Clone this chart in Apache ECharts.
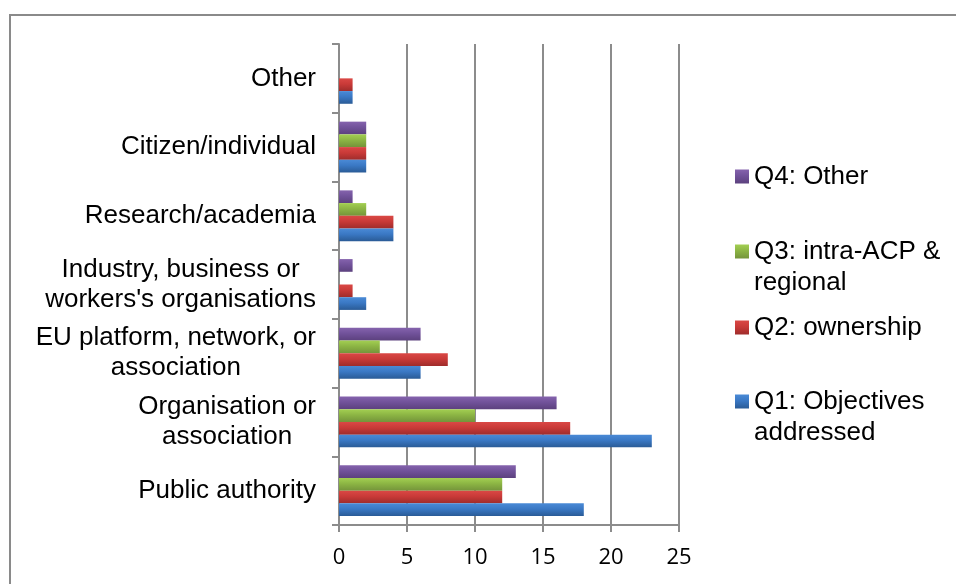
<!DOCTYPE html>
<html>
<head>
<meta charset="utf-8">
<script src="https://cdn.jsdelivr.net/npm/echarts@6/dist/echarts.min.js"></script>
<style>
html,body{margin:0;padding:0;background:#fff;}
#main{width:956px;height:584px;}
</style>
</head>
<body>
<div id="main"></div>
<script>
// Categories listed bottom to top (ECharts category y axis starts at the bottom)
var categories = [
  'Public authority',
  'Organisation or\nassociation',
  'EU platform, network, or\nassociation',
  'Industry, business or\nworkers\'s organisations',
  'Research/academia',
  'Citizen/individual',
  'Other'
];
var seriesNames = ['Q1: Objectives addressed', 'Q2: ownership', 'Q3: intra-ACP & regional', 'Q4: Other'];
var legendLabels = ['Q1: Objectives\naddressed', 'Q2: ownership', 'Q3: intra-ACP &\nregional', 'Q4: Other'];
var q1 = [18, 23, 6, 2, 4, 2, 1];
var q2 = [12, 17, 8, 1, 4, 2, 1];
var q3 = [12, 10, 3, 0, 2, 2, 0];
var q4 = [13, 16, 6, 1, 1, 2, 0];
var xTicks = [0, 5, 10, 15, 20, 25];

var seriesData = [q1, q2, q3, q4];
var gradStops = [
  ['#4a8ad6', '#3a78c4', '#2a5b96'],
  ['#da4845', '#c93a38', '#9f2c2b'],
  ['#a3cf52', '#8cb544', '#74943a'],
  ['#8563ad', '#71529a', '#5c417e']
];
function grad(c) {
  return new echarts.graphic.LinearGradient(0, 0, 0, 1, [
    {offset: 0, color: c[0]}, {offset: 0.45, color: c[1]}, {offset: 1, color: c[2]}
  ]);
}

var FONT = '"Liberation Sans", Arial, sans-serif';
var FS = 26;
// ECharts stacks bar series top-down inside a band, so add Q4 first to keep Q1 at the bottom
var order = [3, 2, 1, 0];
var series = order.map(function (i) {
  return {
    name: seriesNames[i],
    type: 'bar',
    data: seriesData[i],
    barGap: '0%',
    barCategoryGap: '26%',
    itemStyle: {color: grad(gradStops[i])},
    emphasis: {disabled: true}
  };
});

var legendTops = [355, 312, 205, 161]; // Q1, Q2, Q3, Q4
var legends = seriesNames.map(function (n, i) {
  var twoLine = legendLabels[i].indexOf('\n') >= 0;
  return {
    data: [n],
    orient: 'vertical',
    left: 735,
    top: legendTops[i],
    padding: 0,
    itemWidth: 14,
    itemHeight: 14,
    icon: 'rect',
    selectedMode: false,
    formatter: function () { return (twoLine ? '\n' : '') + legendLabels[i]; },
    textStyle: {fontFamily: FONT, fontSize: FS, color: '#000', lineHeight: 31}
  };
});

var option = {
  animation: false,
  backgroundColor: '#fff',
  grid: {left: 339, top: 44, width: 340, height: 481, containLabel: false},
  legend: legends,
  xAxis: {
    type: 'value',
    min: 0, max: 25, interval: 5,
    axisLine: {show: true, lineStyle: {color: '#8c8c8c', width: 2}},
    axisTick: {show: true, length: 7, lineStyle: {color: '#8c8c8c', width: 2}},
    splitLine: {show: true, lineStyle: {color: '#8c8c8c', width: 2}},
    axisLabel: {
      fontFamily: '"Open Sans", sans-serif', fontSize: 22, color: '#000', margin: 22,
      formatter: function (v) { return xTicks.indexOf(v) >= 0 ? String(v) : ''; }
    }
  },
  yAxis: {
    type: 'category',
    data: categories,
    axisLine: {show: true, lineStyle: {color: '#8c8c8c', width: 2}},
    axisTick: {show: true, length: 7, inside: false, lineStyle: {color: '#8c8c8c', width: 2}},
    splitLine: {show: false},
    axisLabel: {
      margin: 23,
      align: 'right',
      fontFamily: FONT, fontSize: FS, color: '#000', lineHeight: 30,
      formatter: function (v) {
        return v.split('\n').map(function (s) { return '{c|' + s + '}'; }).join('\n');
      },
      rich: {c: {align: 'center', fontFamily: FONT, fontSize: FS, color: '#000', lineHeight: 30}}
    }
  },
  graphic: [{
    type: 'rect',
    silent: true,
    shape: {x: 10, y: 15, width: 1000, height: 1000},
    style: {fill: 'none', stroke: '#8a8a8a', lineWidth: 2}
  }],
  series: series
};

var chart = echarts.init(document.getElementById('main'), null, {renderer: 'canvas'});
chart.setOption(option);
</script>
</body>
</html>
